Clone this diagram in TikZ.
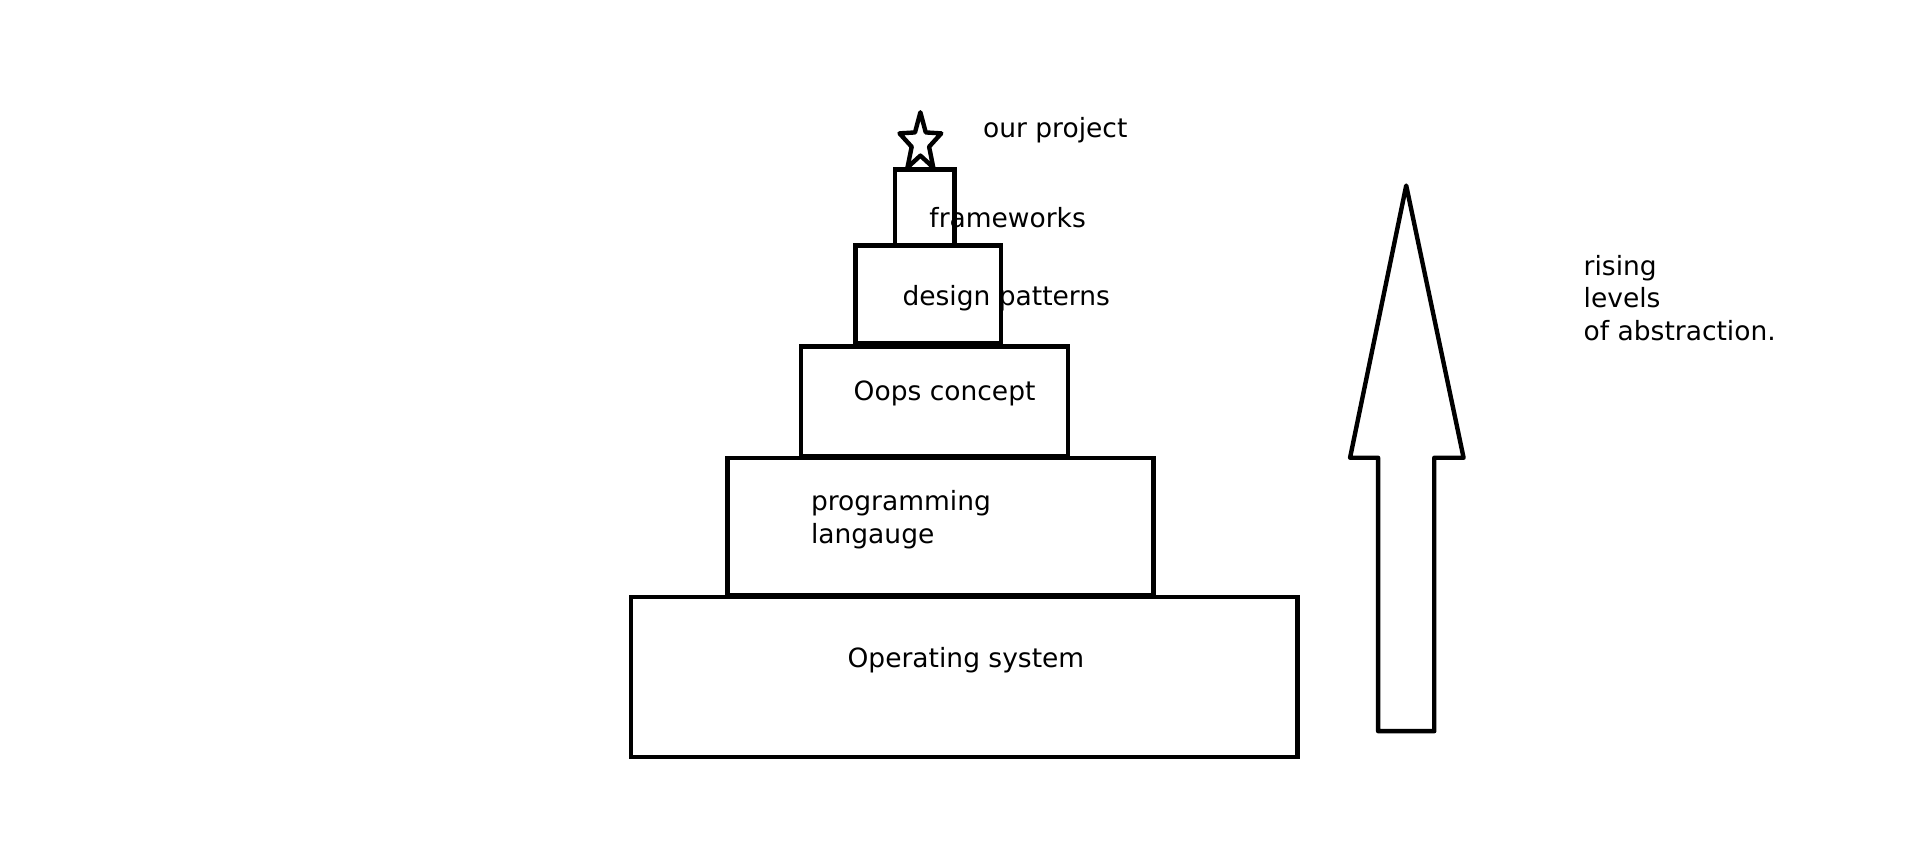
\documentclass[tikz,border=0pt]{standalone}
\usepackage{fontspec}
\setmainfont{DejaVu Sans}
\usetikzlibrary{positioning}

\begin{document}
\begin{tikzpicture}[x=0.5pt, y=-0.5pt,
    tier/.style={rectangle, draw, line width=1.8pt, inner sep=0pt, outer sep=0pt},
    txt/.style={anchor=base west, inner sep=0pt, align=left, font=\fontsize{10.85pt}{13.4pt}\selectfont},
    outline/.style={draw, line width=1.8pt, line join=round}
]
\useasboundingbox (0,0) rectangle (1568,693.9);

% Pyramid layers
\node[tier, minimum width=273pt, minimum height=65.5pt] (os) at (790,554.5) {};
\node[tier, minimum width=174.5pt, minimum height=56.5pt] (prog) at (770.5,431.5) {};
\node[tier, minimum width=109.5pt, minimum height=45pt] (oops) at (765.5,329) {};
\node[tier, minimum width=59.5pt, minimum height=40pt] (design) at (760.5,241) {};
\node[tier, minimum width=24.5pt, minimum height=31pt] (frame) at (757.5,170) {};

% Star on top
\begin{scope}[shift={(754,117)}]
\draw[outline] (270:18 and 25) \foreach \a in {0,72,...,288} {-- (306+\a:7.5 and 10.5) -- (342+\a:18 and 25)} -- cycle;
\end{scope}

% Layer texts
\node[txt] (projT) at (805,112.5) {our project};
\node[txt] (frameT) at (761,186) {frameworks};
\node[txt] (designT) at (739,250.5) {design patterns};
\node[txt] (oopsT) at (699,328) {Oops concept};
\node[txt] (progT) at (664,445) {programming\\langauge};
\node[txt] (osT) at (694,546.5) {Operating system};

% Abstraction arrow
\draw[outline] (1152,152) -- (1199,375) -- (1175,375) -- (1175,599) -- (1129,599) -- (1129,375) -- (1106,375) -- cycle;
\node[txt] (riseT) at (1297,279) {rising\\levels\\of abstraction.};

\end{tikzpicture}
\end{document}
